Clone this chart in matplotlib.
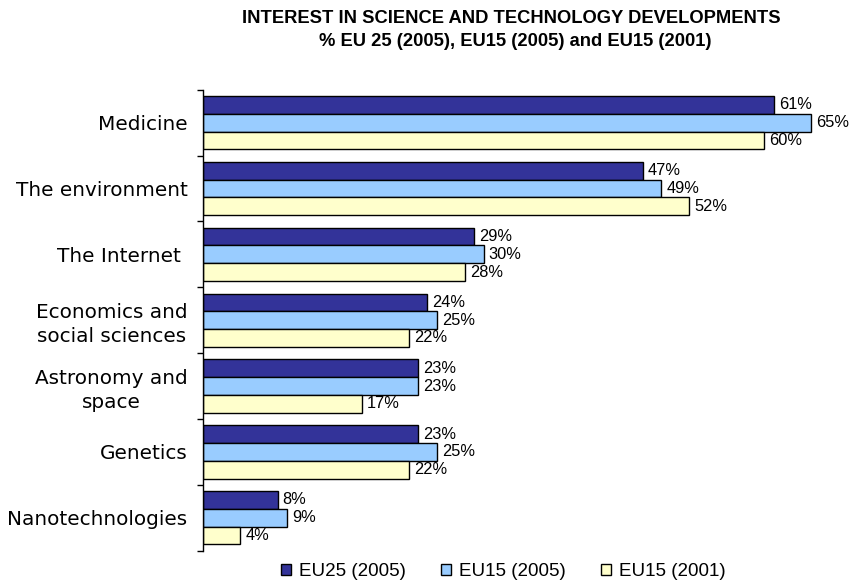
import matplotlib
matplotlib.use('Agg')
import matplotlib.pyplot as plt
import numpy as np
from matplotlib.patches import Patch

categories = ["Medicine", "The environment", "The Internet ",
              "Economics and\nsocial sciences", "Astronomy and\nspace",
              "Genetics", "Nanotechnologies"]
eu25_2005 = [61, 47, 29, 24, 23, 23, 8]
eu15_2005 = [65, 49, 30, 25, 23, 25, 9]
eu15_2001 = [60, 52, 28, 22, 17, 22, 4]
series_labels = ["EU25 (2005)", "EU15 (2005)", "EU15 (2001)"]
title_line1 = "INTEREST IN SCIENCE AND TECHNOLOGY DEVELOPMENTS"
title_line2 = "% EU 25 (2005), EU15 (2005) and EU15 (2001)"

colors = ["#333399", "#99CCFF", "#FFFFCC"]
W, H = 854, 584

fig = plt.figure(figsize=(W / 100, H / 100), dpi=100)
ax = fig.add_axes([202.7 / W, 1 - 550.7 / H, 636.5 / W, 461 / H])

y = np.arange(len(categories))
bh = 0.27
series = [eu25_2005, eu15_2005, eu15_2001]
offsets = [-bh, 0, bh]
for vals, off, col in zip(series, offsets, colors):
    ax.barh(y + off, vals, height=bh, color=col, edgecolor='black', linewidth=1.0)
    for yi, v in zip(y, vals):
        ax.annotate(f"{v}%", xy=(v, yi + off), xytext=(5, 0), textcoords='offset pixels',
                    ha='left', va='center', fontsize=11.8, family='Liberation Sans',
                    color='black')

ax.set_xlim(0, 68)
ax.set_ylim(len(categories) - 0.5, -0.5)
for s in ['top', 'right', 'bottom']:
    ax.spines[s].set_visible(False)
ax.spines['left'].set_linewidth(1.0)
ax.set_xticks([])
ax.set_yticks(y)
ax.set_yticklabels(categories, fontsize=14.4, family='DejaVu Sans')
for t in ax.get_yticklabels():
    t.set_multialignment('center')
    t.set_linespacing(1.3)
ax.tick_params(axis='y', which='major', length=0, pad=11)
ax.set_yticks(np.arange(len(categories) + 1) - 0.5, minor=True)
ax.tick_params(axis='y', which='minor', length=4, width=1.0, direction='out')

fig.text(511 / W, 1 - 22.7 / H, title_line1, ha='center', va='baseline',
         fontsize=13.2, fontweight='bold', family='Liberation Sans')
fig.text(515 / W, 1 - 45.5 / H, title_line2, ha='center', va='baseline',
         fontsize=13.2, fontweight='bold', family='Liberation Sans')

handles = [Patch(facecolor=c, edgecolor='black', linewidth=1.0) for c in colors]
fig.legend(handles, series_labels, loc='center', bbox_to_anchor=(503.5 / W, 1 - 572 / H),
           ncol=3, frameon=False, prop={'family': 'Liberation Sans', 'size': 13.5},
           handlelength=0.52, handleheight=0.52, handletextpad=0.42, columnspacing=1.9)

fig.savefig('out.png', dpi=100)
